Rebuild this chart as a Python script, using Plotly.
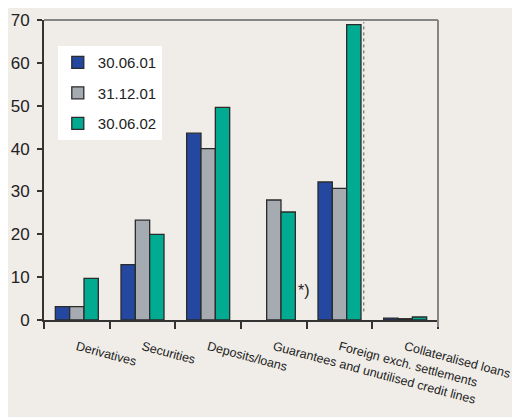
import plotly.graph_objects as go

categories = ["Derivatives", "Securities", "Deposits/loans",
              "Guarantees and unutilised credit lines",
              "Foreign exch. settlements", "Collateralised loans"]
series_names = ["30.06.01", "31.12.01", "30.06.02"]
values_300601 = [3.1, 12.9, 43.6, None, 32.2, 0.45]
values_311201 = [3.1, 23.3, 40.0, 28.0, 30.7, 0.3]
values_300602 = [9.7, 20.0, 49.6, 25.2, 68.9, 0.7]
colors = ["#2448a0", "#a6abb2", "#00ab92"]
y_ticks = [0, 10, 20, 30, 40, 50, 60, 70]

BG = "#f0ede8"
FONT = "Liberation Sans, Arial, sans-serif"

fig = go.Figure()
for name, vals, col in zip(series_names, [values_300601, values_311201, values_300602], colors):
    fig.add_trace(go.Bar(
        x=categories, y=vals, name=name, legendgroup=name,
        marker=dict(color=col, line=dict(color="#2b2b2b", width=1.3)),
    ))

fig.update_layout(
    width=512, height=409,
    paper_bgcolor=BG, plot_bgcolor=BG,
    margin=dict(l=36, r=82, t=12, b=97),
    barmode="group", bargap=0.345, bargroupgap=0,
    font=dict(family=FONT, color="#222222", size=15),
    showlegend=True,
    legend=dict(
        x=0.035, y=0.913, xanchor="left", yanchor="top",
        bgcolor="#ffffff", borderwidth=0,
        font=dict(family=FONT, size=15, color="#222222"),
        tracegroupgap=8, itemwidth=30,
    ),
    xaxis=dict(
        type="category", showline=True, linecolor="#333333", linewidth=2,
        ticks="outside", tickson="boundaries", ticklen=7, tickcolor="#333333", tickwidth=1.5,
        tickangle=15, tickfont=dict(family=FONT, size=12.5, color="#222222"),
        showgrid=False, zeroline=False, range=[-0.5, 5.5], automargin=False,
        ticklabelstandoff=13,
    ),
    yaxis=dict(
        range=[0, 70], tickvals=y_ticks, showline=True, linecolor="#333333", linewidth=2,
        ticks="outside", ticklen=5, tickcolor="#333333", tickwidth=1.5,
        tickfont=dict(family=FONT, size=17, color="#222222"),
        showgrid=False, zeroline=False, ticklabelstandoff=4, automargin=False,
    ),
    shapes=[
        dict(type="line", xref="paper", yref="paper", x0=0, x1=1, y0=1, y1=1,
             line=dict(color="#858585", width=2)),
        dict(type="line", xref="paper", yref="paper", x0=1, x1=1, y0=-0.023, y1=1,
             line=dict(color="#858585", width=2)),
        dict(type="line", xref="x", yref="y", x0=4.37, x1=4.37, y0=2, y1=69.5,
             line=dict(color="#555555", width=1, dash="dot")),
    ],
    annotations=[
        dict(text="*)", x=3.34, y=6.8, xref="x", yref="y", xanchor="left", yanchor="middle",
             showarrow=False, font=dict(family=FONT, size=16, color="#222222")),
    ],
)

fig.write_html("out.html")
